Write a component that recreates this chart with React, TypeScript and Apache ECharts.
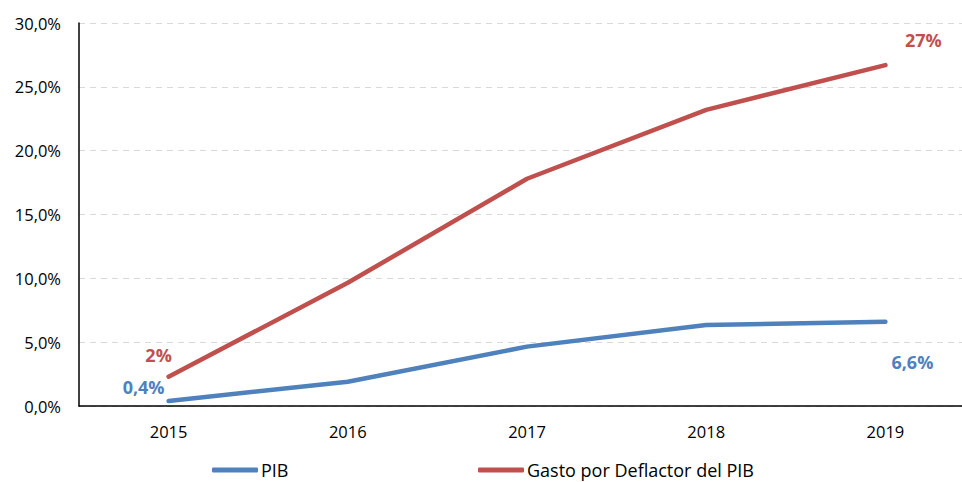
import React, { useEffect, useRef } from "react";
import * as echarts from "echarts";

const years = ["2015", "2016", "2017", "2018", "2019"];
const pib = [0.4, 1.9, 4.65, 6.35, 6.6];
const gasto = [2.3, 9.65, 17.8, 23.2, 26.7];
const pibLabels = ["0,4%", "", "", "", "6,6%"];
const gastoLabels = ["2%", "", "", "", "27%"];
const pibOffsets = [[-25, -14], null, null, null, [27, 40]];
const gastoOffsets = [[-10, -22], null, null, null, [38, -25]];

const FONT = "'Open Sans', 'Noto Sans', sans-serif";
const BLUE = "#4F81BD";
const RED = "#C0504D";

function buildData(values: number[], labels: string[], offsets: (number[] | null)[], color: string) {
  return values.map((v, i) => {
    const item: any = { value: v };
    if (labels[i]) {
      item.label = {
        show: true,
        position: "inside",
        offset: offsets[i],
        formatter: labels[i],
        color,
        fontFamily: FONT,
        fontWeight: "bold",
        fontSize: 18,
      };
    }
    return item;
  });
}

export default function App() {
  const ref = useRef<HTMLDivElement>(null);
  useEffect(() => {
    if (!ref.current) return;
    const chart = echarts.init(ref.current, null, { renderer: "svg" });
    const legendCommon = {
      top: 461,
      padding: 0,
      icon: "roundRect",
      itemWidth: 46,
      itemHeight: 5,
      itemGap: 0,
      textStyle: { fontFamily: FONT, fontSize: 18, color: "#000", padding: [0, 0, 0, -2] },
    };
    chart.setOption({
      animation: false,
      backgroundColor: "#ffffff",
      grid: { left: 79, right: 0, top: 23, bottom: 76 },
      legend: [
        { ...legendCommon, data: ["PIB"], left: 212 },
        { ...legendCommon, data: ["Gasto por Deflactor del PIB"], left: 478 },
      ],
      xAxis: {
        type: "category",
        data: years,
        boundaryGap: true,
        axisLine: { lineStyle: { color: "#000", width: 1.5 } },
        axisTick: { show: false },
        axisLabel: { fontFamily: FONT, fontSize: 16.5, color: "#000", margin: 17 },
      },
      yAxis: {
        type: "value",
        min: 0,
        max: 30,
        interval: 5,
        axisLine: { show: true, lineStyle: { color: "#000", width: 1.5 } },
        axisTick: { show: false },
        axisLabel: {
          fontFamily: FONT,
          fontSize: 16.5,
          color: "#000",
          margin: 18,
          formatter: (v: number) => v.toFixed(1).replace(".", ",") + "%",
        },
        splitLine: { lineStyle: { color: "#d9d9d9", type: [6, 5], width: 1 } },
      },
      series: [
        {
          name: "PIB",
          type: "line",
          data: buildData(pib, pibLabels, pibOffsets, BLUE),
          color: BLUE,
          lineStyle: { width: 4.5, color: BLUE, cap: "round" },
          symbol: "circle",
          symbolSize: 0.1,
          showSymbol: true,
          itemStyle: { color: BLUE },
        },
        {
          name: "Gasto por Deflactor del PIB",
          type: "line",
          data: buildData(gasto, gastoLabels, gastoOffsets, RED),
          color: RED,
          lineStyle: { width: 4.5, color: RED, cap: "round" },
          symbol: "circle",
          symbolSize: 0.1,
          showSymbol: true,
          itemStyle: { color: RED },
        },
      ],
    });
    return () => chart.dispose();
  }, []);
  return (
    <div style={{ width: 962, height: 482, position: "absolute", left: 0, top: 0, overflow: "hidden" }}>
      <div ref={ref} style={{ width: 975, height: 482 }} />
    </div>
  );
}
